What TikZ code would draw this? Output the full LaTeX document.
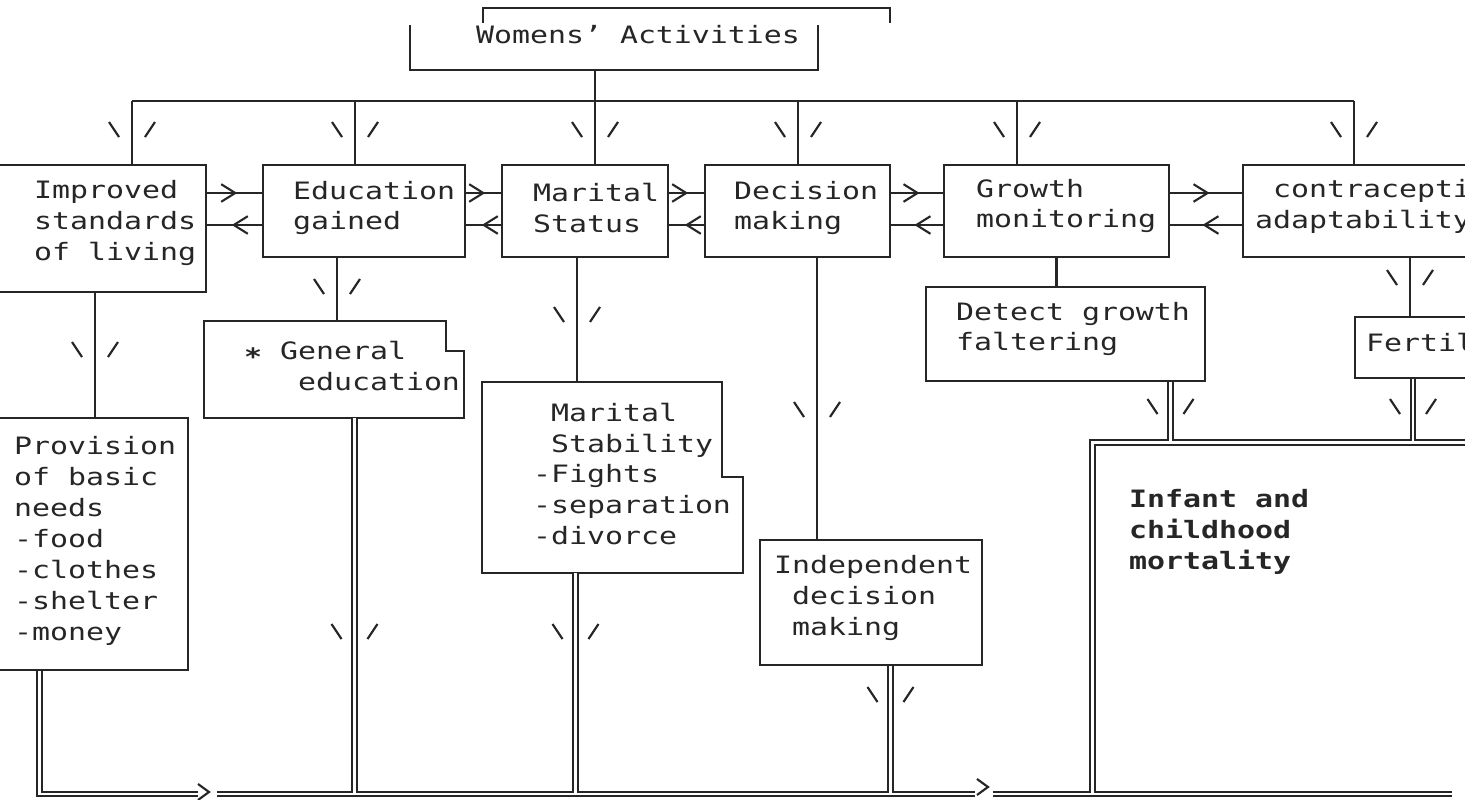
\documentclass[tikz,border=0pt]{standalone}
\usepackage{fontspec}
\newfontfamily\dotfont[FakeStretch=1.25]{DejaVu Sans Mono}
\usetikzlibrary{fit,arrows.meta,decorations.markings}
\newcommand\chsp{\phantom{x}}

\begin{document}
\begin{tikzpicture}[x=0.01cm, y=-0.01cm, line width=0.6pt, color=black!85,
    box/.style={draw, rectangle, inner sep=0pt},
    shell/.style={rectangle, inner sep=0pt},
    lbl/.style={anchor=west, align=left, inner sep=0pt, font=\dotfont\fontsize{6.8}{8.8}\selectfont},
    bold lbl/.style={lbl, font=\dotfont\bfseries\fontsize{6.8}{8.8}\selectfont},
    fwd/.style={postaction=decorate, decoration={markings, mark=at position 0.55 with {\arrow{Straight Barb[length=4pt,width=5pt]}}}},
    bwd/.style={postaction=decorate, decoration={markings, mark=at position 0.45 with {\arrowreversed{Straight Barb[length=4pt,width=5pt]}}}},
    dbl/.style={double, double distance=0.85pt, line width=0.55pt},
    ticks/.pic={\draw (-23,-8) -- (-13,7) (23,-8) -- (13,7);},
    chev/.pic={\draw (-11,-8) -- (0,0) -- (-11,8);}]
    \useasboundingbox (0,0) rectangle (1465,800);
    \fill[white] (0,0) rectangle (1465,800);
    \clip (0,0) rectangle (1465,800);

    % heading
    \node[lbl] (wa) at (475,35) {Womens’ Activities};
    \draw (483,23) |- (890,8) -- (890,23);
    \draw (410,25) |- (818,70) -- (818,25);
    \coordinate (wa-foot) at (595,70);

    % first row
    \node[box, fit={(-5,165) (206,292)}] (impr) {};
    \node[box, fit={(263,165) (465,257)}] (edu) {};
    \node[box, fit={(502,165) (668,257)}] (mar) {};
    \node[box, fit={(705,165) (890,257)}] (dec) {};
    \node[box, fit={(944,165) (1169,257)}] (grow) {};
    \node[box, fit={(1243,165) (1530,257)}] (con) {};
    \node[lbl] (impr-t) at (33,223) {Improved\\standards\\of living};
    \node[lbl] (edu-t) at (292,208) {Education\\gained};
    \node[lbl] (mar-t) at (532,208) {Marital\\Status};
    \node[lbl] (dec-t) at (733,208) {Decision\\making};
    \node[lbl] (grow-t) at (975,206) {Growth\\monitoring};
    \node[lbl] (con-t) at (1254,206) {\chsp contraceptive\\adaptability};

    % second row
    \node[box, fit={(-5,418) (188,670)}] (prov) {};
    \node[lbl] (prov-t) at (13,541) {Provision\\of basic\\needs\\-food\\-clothes\\-shelter\\-money};
    \node[shell, fit={(205,322) (463,417)}] (gen) {};
    \draw (gen.north west) -- ++(242,0) -- ++(0,30) -| (gen.south east) -- (gen.south west) -- cycle;
    \node[lbl] (gen-t) at (243,366) {\textbf{\raisebox{-0.25em}{*}} General\\\chsp\chsp\chsp education};
    \node[shell, fit={(483,383) (742,572)}] (mst) {};
    \draw (mst.north west) -- ++(240,0) -- ++(0,95) -| (mst.south east) -- (mst.south west) -- cycle;
    \node[lbl] (mst-t) at (532,474) {\chsp Marital\\\chsp Stability\\-Fights\\-separation\\-divorce};
    \node[box, fit={(760,540) (982,665)}] (ind) {};
    \node[lbl] (ind-t) at (773,598) {Independent\\\chsp decision\\\chsp making};
    \node[box, fit={(926,287) (1205,381)}] (det) {};
    \node[lbl] (det-t) at (955,329) {Detect growth\\faltering};
    \node[box, fit={(1355,317) (1540,378)}] (fert) {};
    \node[lbl] (fert-t) at (1365,345) {Fertility};
    \node[bold lbl] (inf) at (1128,532) {Infant and\\childhood\\mortality};

    % links between the first row
    \coordinate (r-up) at (0,193);
    \coordinate (r-lo) at (0,225);
    \foreach \p/\q in {impr/edu, edu/mar, mar/dec, dec/grow, grow/con} {
        \draw[fwd] (\p.east |- r-up) -- (\q.west |- r-up);
        \draw[bwd] (\p.east |- r-lo) -- (\q.west |- r-lo);
    }

    % top bus
    \foreach \n/\x in {impr/132, edu/355, mar/595, dec/798, grow/1017, con/1354} {
        \coordinate (b-\n) at (\x,101);
        \draw (b-\n) -- (b-\n |- \n.north);
        \pic at (\x,130) {ticks};
    }
    \draw (b-impr) -- (b-con);
    \draw (wa-foot) -- (b-mar);

    % single drops
    \foreach \p/\q/\x/\ty in {impr/prov/95/350, edu/gen/337/287, mar/mst/577/315, dec/ind/817/410, con/fert/1410/278} {
        \coordinate (d-\q) at (\x,0);
        \draw (\p.south -| d-\q) -- (\q.north -| d-\q);
        \pic at (\x,\ty) {ticks};
    }
    \draw (grow.south) -- (grow.south |- det.north);

    % double lines
    \coordinate (bt) at (0,792.5);
    \coordinate (it) at (0,441);
    \coordinate (bus-a) at (217,794);
    \coordinate (bus-b) at (975,794);
    \coordinate (bus-c) at (993,794);
    \coordinate (bus-d) at (1452,794);
    \coordinate (prov-end) at (198,794);
    \coordinate (prov-x) at (39.5,0);
    \coordinate (inf-ne) at (1530,442.5);
    \coordinate (inf-nw) at (1092.5,442.5);
    \draw[dbl] (bus-a) -- (bus-b);
    \draw[dbl] (bus-c) -- (bus-d);
    \pic at (209,792) {chev};
    \pic at (988,787) {chev};
    \draw[dbl] (prov.south -| prov-x) |- (prov-end);
    \draw[dbl] (inf-ne) -- (inf-nw) -- (inf-nw |- bt);
    \foreach \n/\x/\ty in {gen/354.5/632, mst/575.5/632, ind/890.5/695} {
        \coordinate (e-\n) at (\x,0);
        \draw[dbl] (\n.south -| e-\n) -- (e-\n |- bt);
        \pic at (\x,\ty) {ticks};
    }
    \foreach \n/\x in {det/1170.5, fert/1413} {
        \coordinate (e-\n) at (\x,0);
        \draw[dbl] (\n.south -| e-\n) -- (e-\n |- it);
        \pic at (\x,407) {ticks};
    }
\end{tikzpicture}
\end{document}
